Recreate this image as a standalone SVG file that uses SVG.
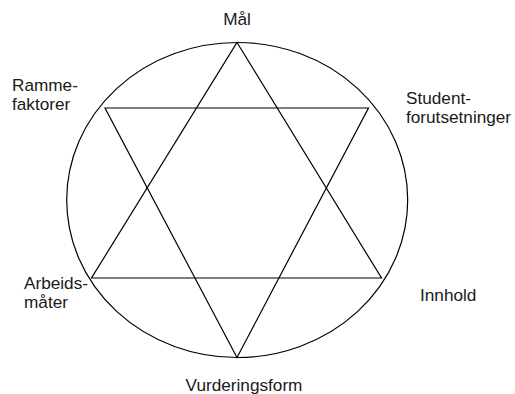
<svg xmlns="http://www.w3.org/2000/svg" width="515" height="394" viewBox="0 0 515 394">
<style>
.l{font-family:"Liberation Sans",Arial,sans-serif;font-size:17.2px;fill:#1a1a1a}
.s{fill:none;stroke:#000;stroke-width:1.2;stroke-linejoin:miter}
</style>
<rect width="515" height="394" fill="#fff"/>
<g id="connectors">
<ellipse class="s" cx="237.2" cy="200" rx="170.5" ry="157.5"/>
<polygon class="s" points="237,42.5 381.5,278 91.5,278"/>
<polygon class="s" points="105,108 368.5,108 237,357.5"/>
</g>
<g id="mal"><text class="l" x="237" y="25" text-anchor="middle">Mål</text></g>
<g id="rammefaktorer"><text class="l" x="12" y="91">Ramme-</text><text class="l" x="12" y="110">faktorer</text></g>
<g id="studentforutsetninger"><text class="l" x="406" y="104">Student-</text><text class="l" x="406" y="122.5">forutsetninger</text></g>
<g id="arbeidsmater"><text class="l" x="24" y="288.5">Arbeids-</text><text class="l" x="24" y="307.5">måter</text></g>
<g id="innhold"><text class="l" x="420" y="301">Innhold</text></g>
<g id="vurderingsform"><text class="l" x="244" y="391" text-anchor="middle">Vurderingsform</text></g>
</svg>
